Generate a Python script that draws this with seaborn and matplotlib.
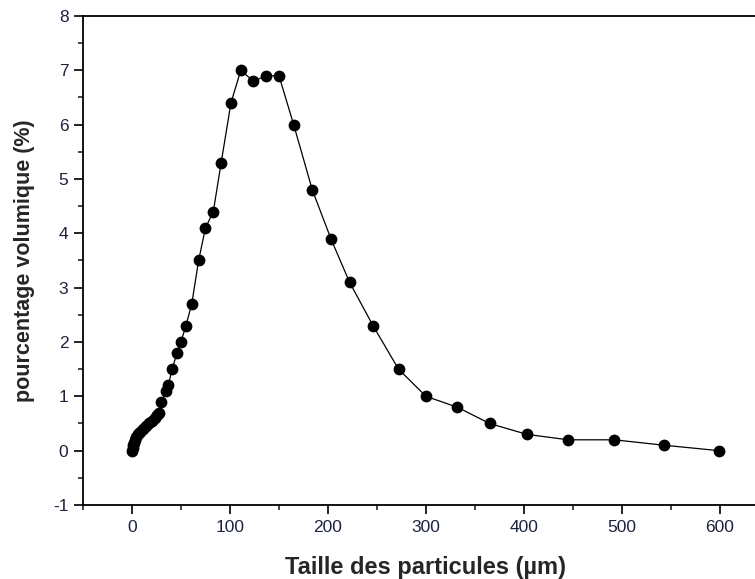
import matplotlib
matplotlib.use("Agg")
import matplotlib.pyplot as plt
import seaborn as sns
import pandas as pd
from matplotlib.ticker import MultipleLocator

# particle size distribution (size in µm, volume percentage)
taille = [0.5, 1, 1.5, 2, 3, 4, 6, 8, 11, 14, 17, 20, 23, 26, 28, 30,
          35, 37, 41, 46, 50, 55, 61, 68, 75, 83, 91, 101, 111, 124,
          137, 150, 165, 184, 203, 222, 246, 272, 300, 332, 365, 403,
          445, 492, 543, 599]
volume = [0.0, 0.05, 0.1, 0.15, 0.2, 0.25, 0.3, 0.35, 0.4, 0.45, 0.5,
          0.55, 0.6, 0.65, 0.7, 0.9, 1.1, 1.2, 1.5, 1.8, 2.0, 2.3, 2.7,
          3.5, 4.1, 4.4, 5.3, 6.4, 7.0, 6.8, 6.9, 6.9, 6.0, 4.8, 3.9,
          3.1, 2.3, 1.5, 1.0, 0.8, 0.5, 0.3, 0.2, 0.2, 0.1, 0.0]

x_ticks = [0, 100, 200, 300, 400, 500, 600]
y_ticks = [-1, 0, 1, 2, 3, 4, 5, 6, 7, 8]

df = pd.DataFrame({"taille": taille, "volume": volume})

sns.set_style("ticks")
plt.rcParams["font.family"] = ["Liberation Sans", "DejaVu Sans"]

fig = plt.figure(figsize=(7.55, 5.79), dpi=100)
ax = fig.add_axes([0.1099, 0.1278, 0.9086, 0.8446])

sns.lineplot(data=df, x="taille", y="volume", ax=ax, color="black",
             linewidth=0.9, sort=False, zorder=2)
sns.scatterplot(data=df, x="taille", y="volume", ax=ax, color="black",
                s=72, edgecolor="black", linewidth=0, zorder=3)

ax.set_xlim(-50, 650)
ax.set_ylim(-1, 8)
ax.set_xticks(x_ticks)
ax.set_yticks(y_ticks)
ax.set_yticklabels([str(v) for v in y_ticks])
ax.xaxis.set_minor_locator(MultipleLocator(50))
ax.yaxis.set_minor_locator(MultipleLocator(0.5))
ax.tick_params(which="major", direction="out", length=6.5, width=1.2,
               labelsize=12.5, colors="black", pad=4)
ax.tick_params(which="minor", direction="out", length=3.8, width=1.2)
for lab in ax.get_xticklabels() + ax.get_yticklabels():
    lab.set_color("#1c2240")

for side in ["left", "bottom", "top", "right"]:
    ax.spines[side].set_visible(True)
    ax.spines[side].set_linewidth(1.3)
    ax.spines[side].set_color("black")

ax.set_xlabel("Taille des particules (µm)", fontsize=17, fontweight="bold")
ax.set_ylabel("pourcentage volumique (%)", fontsize=15.5, fontweight="bold")
ax.xaxis.set_label_coords(0.5, -0.105)
ax.yaxis.set_label_coords(-0.070, 0.5)

fig.savefig("out.png", dpi=100)
